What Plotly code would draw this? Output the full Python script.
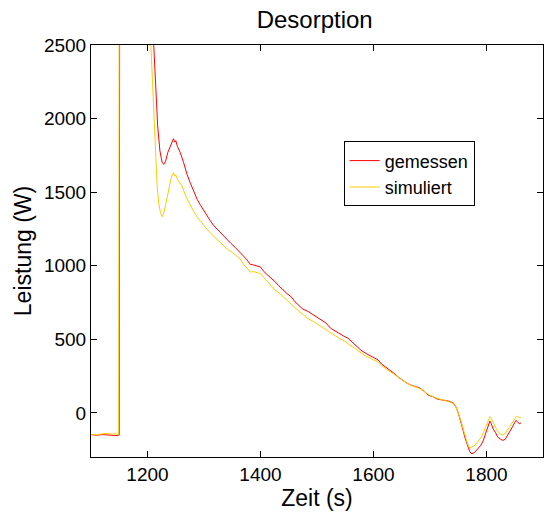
import plotly.graph_objects as go

# Zeitachse und Leistung (gemessen)
t_gem = [1100, 1110, 1120, 1130, 1140, 1148, 1150, 1151, 1170, 1190, 1205, 1211, 1215, 1218,
         1222, 1226, 1229, 1232, 1236, 1240, 1244, 1246, 1248, 1250, 1253, 1258, 1264, 1270,
         1276, 1282, 1288, 1294, 1300, 1305, 1312, 1318, 1324, 1329, 1336, 1342, 1348, 1355,
         1364, 1370, 1376, 1382, 1388, 1394, 1400, 1406, 1412, 1418, 1426, 1432, 1440, 1447,
         1454, 1461, 1468, 1475, 1484, 1492, 1500, 1508, 1516, 1524, 1532, 1540, 1548, 1555,
         1562, 1570, 1578, 1586, 1594, 1602, 1608, 1615, 1622, 1629, 1636, 1643, 1650, 1658,
         1665, 1672, 1682, 1690, 1697, 1705, 1712, 1718, 1726, 1733, 1741, 1746, 1750, 1754,
         1758, 1762, 1766, 1770, 1773, 1776, 1780, 1785, 1790, 1794, 1798, 1802, 1806, 1808,
         1812, 1816, 1820, 1825, 1829, 1833, 1838, 1842, 1846, 1850, 1852, 1855, 1858, 1861]
p_gem = [-148, -152, -148, -150, -155, -155, -150, 4200, 3800, 3200, 2750, 2500, 2150, 1950,
         1780, 1700, 1689, 1710, 1770, 1810, 1850, 1863, 1840, 1850, 1810, 1768, 1700, 1620,
         1560, 1498, 1450, 1410, 1370, 1340, 1300, 1270, 1245, 1228, 1195, 1170, 1150, 1125,
         1092, 1065, 1040, 1009, 1005, 1000, 991, 960, 940, 920, 890, 865, 835, 810,
         790, 755, 730, 705, 690, 670, 650, 630, 610, 575, 555, 535, 520, 507,
         480, 455, 425, 405, 390, 370, 360, 330, 310, 293, 270, 245, 225, 205,
         190, 180, 169, 145, 120, 110, 95, 90, 85, 80, 68, 40, 0, -50,
         -110, -170, -220, -260, -277, -275, -265, -245, -220, -191, -150, -100, -56, -70,
         -110, -135, -165, -180, -187, -180, -150, -120, -95, -65, -52, -60, -75, -68]

# Zeitachse und Leistung (simuliert)
t_sim = [1100, 1110, 1120, 1130, 1138, 1142, 1146, 1149, 1150, 1170, 1190, 1206, 1210, 1214,
         1217, 1220, 1223, 1226, 1229, 1233, 1237, 1241, 1244, 1246, 1248, 1250, 1254, 1261,
         1268, 1276, 1283, 1290, 1298, 1305, 1312, 1320, 1328, 1335, 1342, 1350, 1357, 1364,
         1370, 1376, 1382, 1388, 1394, 1400, 1406, 1412, 1419, 1426, 1433, 1440, 1447, 1454,
         1461, 1468, 1476, 1484, 1492, 1500, 1508, 1516, 1524, 1532, 1540, 1548, 1555, 1562,
         1570, 1578, 1586, 1594, 1602, 1608, 1615, 1622, 1629, 1636, 1643, 1650, 1658, 1665,
         1672, 1682, 1690, 1697, 1705, 1712, 1718, 1726, 1733, 1741, 1746, 1750, 1754, 1758,
         1762, 1766, 1770, 1774, 1778, 1784, 1790, 1795, 1800, 1804, 1806, 1809, 1813, 1818,
         1823, 1828, 1833, 1838, 1843, 1848, 1853, 1857, 1861]
p_sim = [-145, -150, -142, -140, -145, -138, -148, -150, 3500, 3300, 2900, 2500, 2150, 1790,
         1543, 1420, 1360, 1333, 1360, 1430, 1510, 1580, 1620, 1633, 1610, 1615, 1580, 1543,
         1470, 1408, 1360, 1320, 1280, 1250, 1220, 1190, 1165, 1137, 1110, 1090, 1070, 1047,
         1010, 985, 957, 960, 955, 946, 920, 895, 860, 833, 815, 790, 765, 740,
         709, 690, 665, 640, 625, 605, 586, 565, 540, 520, 505, 490, 473, 450,
         430, 405, 385, 372, 355, 349, 320, 300, 281, 262, 240, 222, 205, 190,
         178, 165, 145, 125, 110, 98, 92, 85, 78, 65, 40, 0, -45, -100,
         -160, -205, -241, -235, -225, -200, -170, -130, -85, -45, -25, -40, -75, -115,
         -140, -151, -140, -110, -80, -45, -23, -30, -34]

x_ticks = [1200, 1400, 1600, 1800]
y_ticks = [0, 500, 1000, 1500, 2000, 2500]

FONT = "Liberation Sans, Arial, Helvetica, sans-serif"

fig = go.Figure()
fig.add_trace(go.Scatter(x=t_gem, y=p_gem, mode="lines", name="gemessen",
                         line=dict(color="#FF0000", width=1)))
fig.add_trace(go.Scatter(x=t_sim, y=p_sim, mode="lines", name="simuliert",
                         line=dict(color="#FFCC00", width=1)))

axis_common = dict(
    showline=True, linecolor="black", linewidth=1, mirror="ticks",
    ticks="inside", ticklen=6, tickcolor="black", tickwidth=1,
    showgrid=False, zeroline=False,
    tickfont=dict(family=FONT, size=19, color="black"),
)

fig.update_layout(
    width=556, height=517,
    margin=dict(l=91, r=12, t=45, b=57),
    paper_bgcolor="white", plot_bgcolor="white",
    title=dict(text="Desorption", x=0.566, xanchor="center", y=0.963, yanchor="middle",
               font=dict(family=FONT, size=24, color="black")),
    xaxis=dict(range=[1100, 1900], tickvals=x_ticks,
               title=dict(text="Zeit (s)", standoff=4,
                          font=dict(family=FONT, size=23, color="black")),
               **axis_common),
    yaxis=dict(range=[-300, 2500], tickvals=y_ticks,
               title=dict(text="Leistung (W)", standoff=5,
                          font=dict(family=FONT, size=23, color="black")),
               **axis_common),
    legend=dict(x=0.559, y=0.766, xanchor="left", yanchor="top",
                bgcolor="white", bordercolor="black", borderwidth=1,
                font=dict(family=FONT, size=18, color="black"),
                tracegroupgap=0, itemwidth=30),
    showlegend=True,
)

fig.write_html("out.html")
